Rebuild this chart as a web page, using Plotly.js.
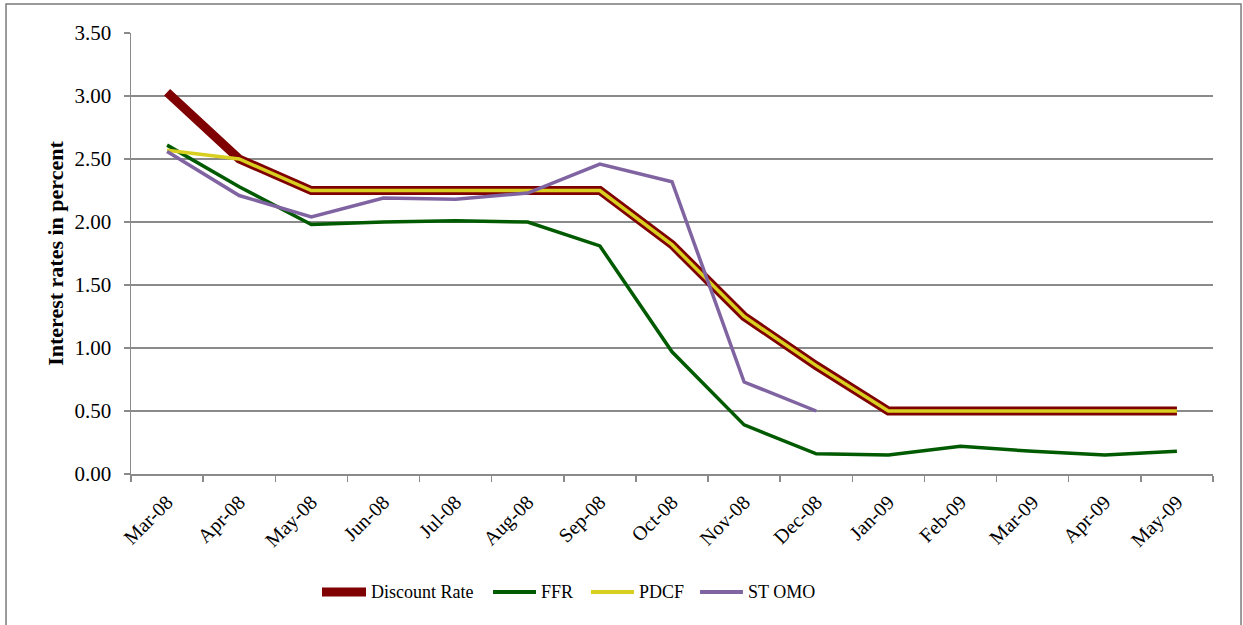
<!DOCTYPE html>
<html>
<head>
<meta charset="utf-8">
<script src="https://cdn.plot.ly/plotly-3.0.1.min.js"></script>
<style>html,body{margin:0;padding:0;background:#fff;}#chart{width:1243px;height:625px;}</style>
</head>
<body>
<div id="chart"></div>
<script>
const months = ["Mar-08","Apr-08","May-08","Jun-08","Jul-08","Aug-08","Sep-08","Oct-08","Nov-08","Dec-08","Jan-09","Feb-09","Mar-09","Apr-09","May-09"];
const discountRate = [3.03,2.50,2.25,2.25,2.25,2.25,2.25,1.82,1.25,0.86,0.50,0.50,0.50,0.50,0.50];
const ffr = [2.61,2.28,1.98,2.00,2.01,2.00,1.81,0.97,0.39,0.16,0.15,0.22,0.18,0.15,0.18];
const pdcf = [2.57,2.50,2.25,2.25,2.25,2.25,2.25,1.82,1.25,0.86,0.50,0.50,0.50,0.50,0.50];
const stomo = [2.56,2.21,2.04,2.19,2.18,2.23,2.46,2.32,0.73,0.50,null,null,null,null,null];
const seriesNames = ["Discount Rate","FFR","PDCF","ST OMO"];
const yTicks = [0,0.5,1,1.5,2,2.5,3,3.5];

const font = "Liberation Serif, Cambria, serif";
const colors = ["#7f0000","#005a00","#d8cf20","#8064a2"];
const widths = [9,3.5,3.5,3.5];
const seriesData = [discountRate, ffr, pdcf, stomo];
const traces = seriesData.map((ys, i) => ({
  x: months, y: ys, name: seriesNames[i], type: "scatter", mode: "lines",
  line: {color: colors[i], width: widths[i]}, showlegend: false
}));

// custom legend (paper coordinates), positions chosen to match reference
const legendY = -0.2676;
const legendSample = [[0.1765,0.2172],[0.3346,0.3743],[0.4251,0.4649],[0.5259,0.5656]];
const shapes = [
  {type: "rect", xref: "paper", yref: "paper", x0: -0.1155, x1: 1.0259, y0: -0.45, y1: 1.0658, line: {color: "#7a7a7a", width: 1.5}, fillcolor: "rgba(0,0,0,0)", layer: "below"}
];
const annotations = [];
seriesNames.forEach((n, i) => {
  shapes.push({type: "line", xref: "paper", yref: "paper", x0: legendSample[i][0], x1: legendSample[i][1], y0: legendY, y1: legendY,
    line: {color: colors[i], width: i === 0 ? 9 : 4}});
  annotations.push({xref: "paper", yref: "paper", x: legendSample[i][1] + 0.0025, y: legendY, xanchor: "left", yanchor: "middle",
    text: n, showarrow: false, font: {family: font, size: 18, color: "#000"}});
});

const layout = {
  width: 1243, height: 625,
  margin: {l: 131, r: 30, t: 33, b: 151},
  paper_bgcolor: "#fff", plot_bgcolor: "#fff",
  font: {family: font, size: 20, color: "#000"},
  showlegend: false,
  xaxis: {
    type: "category", tickangle: -45, showgrid: false, showline: true, linecolor: "#8a8a8a", linewidth: 1.5,
    ticks: "outside", tickson: "boundaries", ticklen: 6, tickcolor: "#8a8a8a", tickwidth: 1.5,
    tickfont: {family: font, size: 20}, range: [-0.5, 14.5], fixedrange: true, ticklabelstandoff: 7
  },
  yaxis: {
    range: [0, 3.5], tickvals: yTicks, tickformat: ".2f", showgrid: true, gridcolor: "#8a8a8a", gridwidth: 1.3,
    showline: true, linecolor: "#8a8a8a", linewidth: 1.5, ticks: "outside", ticklen: 6, tickcolor: "#8a8a8a", tickwidth: 1.3,
    zeroline: false, tickfont: {family: font, size: 21}, ticklabelstandoff: 8,
    title: {text: "<b>Interest rates in percent</b>", font: {family: font, size: 22}, standoff: 5}
  },
  shapes: shapes,
  annotations: annotations
};
Plotly.newPlot("chart", traces, layout, {staticPlot: true});
</script>
</body>
</html>
